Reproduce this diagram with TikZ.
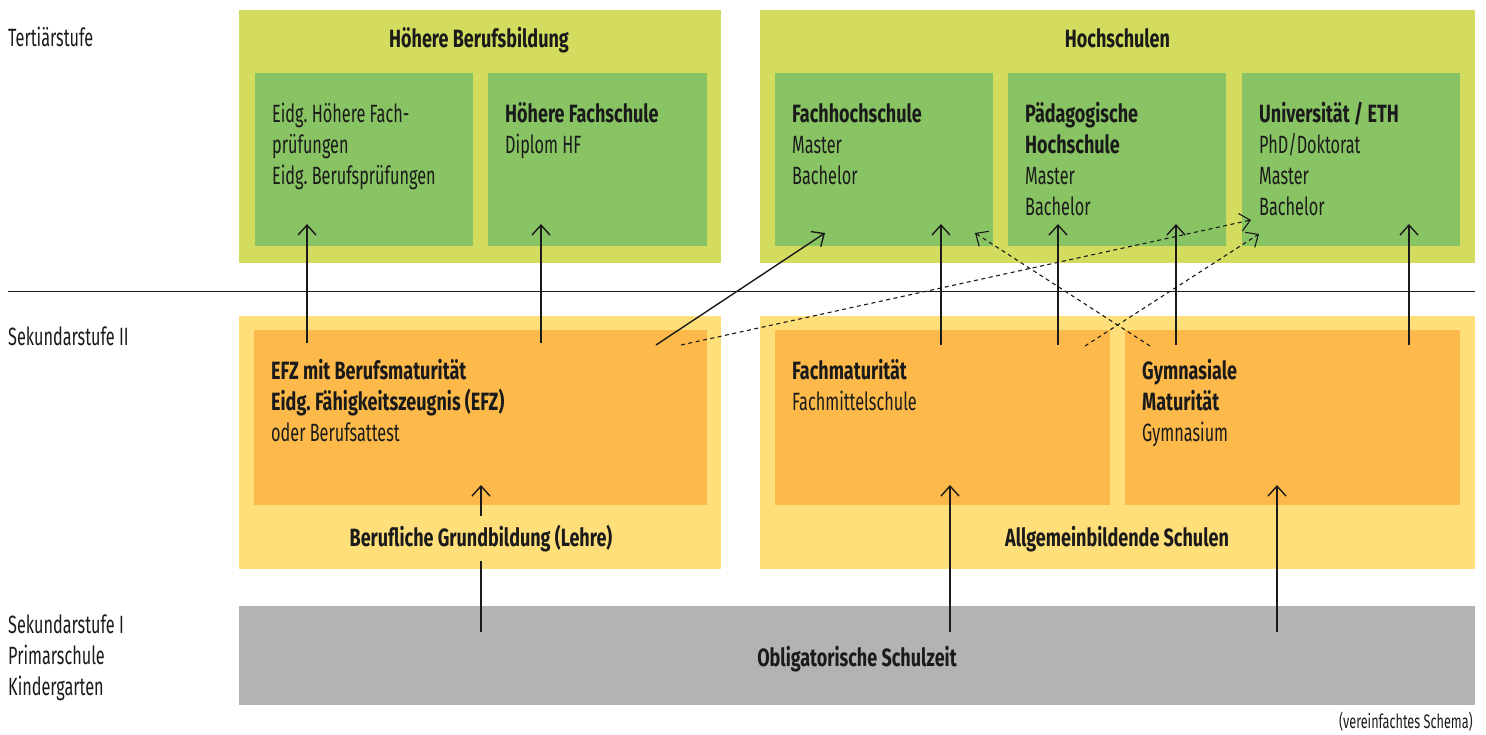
\documentclass[tikz,border=0pt]{standalone}
\usepackage{fontspec}
\setmainfont{Fira Sans}[FakeStretch=0.65, BoldFeatures={FakeStretch=0.72}]
\usepackage{xcolor}
\usetikzlibrary{arrows.meta, positioning}
\definecolor{tertbg}{HTML}{D3DC5E}
\definecolor{tertin}{HTML}{89C464}
\definecolor{sekbg}{HTML}{FEDF79}
\definecolor{sekin}{HTML}{FDBA4B}
\definecolor{obligbg}{HTML}{B2B4B1}
\definecolor{ink}{HTML}{1A1A1A}
\frenchspacing
\newcommand{\boxlines}[1]{\begin{tabular}[t]{@{}l@{}}#1\end{tabular}}

\begin{document}
\begin{tikzpicture}[x=1pt,y=-1pt]
    \tikzset{box/.style = {shape=rectangle, inner sep=0pt, draw=none}}
    \tikzset{label/.style = {inner sep=0pt, text=ink, font=\fontsize{25}{31}\selectfont}}
    \tikzset{boxtext/.style = {label, anchor=base west}}
    \tikzset{edge/.style = {-{Straight Barb[length=10pt,width=18pt]}, line width=1.4pt, draw=ink}}
    \tikzset{dashedge/.style = {edge, line width=1.1pt, dash pattern=on 4pt off 3.5pt}}
    \useasboundingbox (0,0) rectangle (1486,735);
    % stages
    \node[label, anchor=base west] (tert) at (8,46.5) {Tertiärstufe};
    \node[label, anchor=base west] (sek2) at (8,345) {Sekundarstufe II};
    \node[boxtext] (sek1) at (8,633.5) {\boxlines{Sekundarstufe I\\Primarschule\\Kindergarten}};
    \coordinate (rule-l) at (8,292);
    \coordinate (rule-r) at (1475,292);
    \draw[line width=1pt, draw=ink] (rule-l) -- (rule-r);
    % boxes
    \node[box, fill=tertbg, minimum width=482pt, minimum height=253pt] (hbb) at (480,136.5) {};
    \node[box, fill=tertbg, minimum width=715pt, minimum height=253pt] (hs) at (1117.5,136.5) {};
    \node[box, fill=tertin, minimum width=218pt, minimum height=173pt] (hfp) at (364,159.5) {};
    \node[box, fill=tertin, minimum width=219pt, minimum height=173pt] (hf) at (597.5,159.5) {};
    \node[box, fill=tertin, minimum width=218pt, minimum height=173pt] (fh) at (884,159.5) {};
    \node[box, fill=tertin, minimum width=218pt, minimum height=173pt] (ph) at (1117,159.5) {};
    \node[box, fill=tertin, minimum width=218pt, minimum height=173pt] (uni) at (1351,159.5) {};
    \node[box, fill=sekbg, minimum width=482pt, minimum height=253pt] (bgb) at (480,442.5) {};
    \node[box, fill=sekbg, minimum width=715pt, minimum height=253pt] (abs) at (1117.5,442.5) {};
    \node[box, fill=sekin, minimum width=453pt, minimum height=175pt] (efz) at (480.5,417.5) {};
    \node[box, fill=sekin, minimum width=335pt, minimum height=175pt] (fms) at (942.5,417.5) {};
    \node[box, fill=sekin, minimum width=335pt, minimum height=175pt] (gym) at (1292.5,417.5) {};
    \node[box, fill=obligbg, minimum width=1236pt, minimum height=99pt] (obl) at (857,655.5) {};
    % arrow ends
    \coordinate (o1) at (481,632);   \coordinate (e1) at (481,485);
    \coordinate (o2) at (950,632);   \coordinate (f1) at (950,485);
    \coordinate (o3) at (1277,632);  \coordinate (g1) at (1277,485);
    \coordinate (e2) at (307,343);   \coordinate (p1) at (307,224);
    \coordinate (e3) at (541,343);   \coordinate (p2) at (541,224);
    \coordinate (e4) at (656,345);   \coordinate (p3) at (825,233);
    \coordinate (e5) at (681,345);   \coordinate (p4) at (1251,220);
    \coordinate (f2) at (941,345);   \coordinate (p5) at (941,224);
    \coordinate (f3) at (1058,345);  \coordinate (p6) at (1058,224);
    \coordinate (f4) at (1085,346);  \coordinate (p7) at (1259,234);
    \coordinate (g2) at (1150,346);  \coordinate (p8) at (975,233);
    \coordinate (g3) at (1176,345);  \coordinate (p9) at (1176,224);
    \coordinate (g4) at (1409,345);  \coordinate (p10) at (1409,224);
    % edges
    \draw[edge] (o1) to (e1);
    \draw[edge] (o2) to (f1);
    \draw[edge] (o3) to (g1);
    \draw[edge] (e2) to (p1);
    \draw[edge] (e3) to (p2);
    \draw[edge] (e4) to (p3);
    \draw[dashedge] (e5) to (p4);
    \draw[edge] (f2) to (p5);
    \draw[edge] (f3) to (p6);
    \draw[dashedge] (f4) to (p7);
    \draw[dashedge] (g2) to (p8);
    \draw[edge] (g3) to (p9);
    \draw[edge] (g4) to (p10);
    % texts
    \node[label, anchor=base] (hbb-t) at (479,47.5) {\bfseries Höhere Berufsbildung};
    \node[label, anchor=base] (hs-t) at (1117.5,47.5) {\bfseries Hochschulen};
    \node[boxtext] (hfp-t) at (272,122.5) {\boxlines{Eidg. Höhere Fach-\\prüfungen\\Eidg. Berufsprüfungen}};
    \node[boxtext] (hf-t) at (505,122.5) {\boxlines{\textbf{Höhere Fachschule}\\Diplom HF}};
    \node[boxtext] (fh-t) at (792,122.5) {\boxlines{\textbf{Fachhochschule}\\Master\\Bachelor}};
    \node[boxtext] (ph-t) at (1025,122.5) {\boxlines{\textbf{Pädagogische}\\\textbf{Hochschule}\\Master\\Bachelor}};
    \node[boxtext] (uni-t) at (1259,122.5) {\boxlines{\textbf{Universität / ETH}\\PhD/Doktorat\\Master\\Bachelor}};
    \node[boxtext] (efz-t) at (271,379.5) {\boxlines{\textbf{EFZ mit Berufsmaturität}\\\textbf{Eidg. Fähigkeitszeugnis (EFZ)}\\oder Berufsattest}};
    \node[boxtext] (fms-t) at (792,379.5) {\boxlines{\textbf{Fachmaturität}\\Fachmittelschule}};
    \node[boxtext] (gym-t) at (1142,379.5) {\boxlines{\textbf{Gymnasiale}\\\textbf{Maturität}\\Gymnasium}};
    \node[label, anchor=base, fill=sekbg, inner xsep=4pt, inner ysep=9pt] (bgb-t) at (481,546) {\bfseries Berufliche Grundbildung (Lehre)};
    \node[label, anchor=base] (abs-t) at (1117,546) {\bfseries Allgemeinbildende Schulen};
    \node[label, anchor=base] (obl-t) at (857,666) {\bfseries Obligatorische Schulzeit};
    \node[label, anchor=base east, font=\fontsize{19.5}{21}\selectfont] (note) at (1473,728) {(vereinfachtes Schema)};
\end{tikzpicture}
\end{document}
